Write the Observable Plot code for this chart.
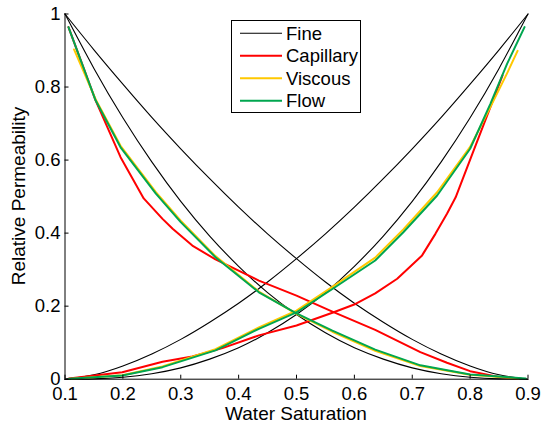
<!DOCTYPE html>
<html><head><meta charset="utf-8">
<script src="https://cdn.jsdelivr.net/npm/d3@7"></script>
<script src="https://cdn.jsdelivr.net/npm/@observablehq/plot@0.6"></script>
<style>body{margin:0;background:#fff}#chart{width:541px;height:426px}</style>
</head><body><div id="chart"></div>
<script>
// ---- data ----
const seriesNames = ["Fine", "Capillary", "Viscous", "Flow"];
const seriesColors = ["#000000", "#ff0000", "#ffc800", "#00a64f"];
const xTicks = [0.1, 0.2, 0.3, 0.4, 0.5, 0.6, 0.7, 0.8, 0.9];
const yTicks = [0, 0.2, 0.4, 0.6, 0.8, 1];

// Fine (black) curves, sampled at these saturations
const fineX = [0.10, 0.15, 0.20, 0.25, 0.30, 0.35, 0.40, 0.45, 0.50, 0.55, 0.60, 0.65, 0.70, 0.75, 0.80, 0.85, 0.90];
const fineOuterDec = [1, 0.902, 0.808, 0.717, 0.631, 0.549, 0.471, 0.398, 0.330, 0.266, 0.208, 0.156, 0.109, 0.069, 0.036, 0.012, 0];
const fineInnerDec = [1, 0.851, 0.716, 0.595, 0.487, 0.392, 0.309, 0.237, 0.177, 0.127, 0.086, 0.055, 0.031, 0.015, 0.0055, 0.001, 0];
const fineOuterInc = [0, 0.012, 0.036, 0.069, 0.109, 0.156, 0.208, 0.266, 0.330, 0.398, 0.471, 0.549, 0.631, 0.717, 0.808, 0.902, 1];
const fineInnerInc = [0, 0.001, 0.0055, 0.015, 0.031, 0.055, 0.086, 0.127, 0.177, 0.237, 0.309, 0.392, 0.487, 0.595, 0.716, 0.851, 1];

// Capillary (red)
const capDecX = [0.106, 0.153, 0.196, 0.236, 0.2685, 0.286, 0.32, 0.36, 0.435, 0.50, 0.562, 0.636, 0.714, 0.76, 0.80, 0.847, 0.88];
const capDecY = [0.964, 0.763, 0.608, 0.495, 0.439, 0.412, 0.366, 0.328, 0.27, 0.229, 0.185, 0.135, 0.074, 0.045, 0.022, 0.007, 0.002];
const capIncX = [0.107, 0.199, 0.2685, 0.32, 0.372, 0.435, 0.50, 0.562, 0.602, 0.636, 0.674, 0.717, 0.74, 0.76, 0.775, 0.806, 0.835, 0.856];
const capIncY = [0.002, 0.019, 0.048, 0.062, 0.085, 0.12, 0.147, 0.182, 0.206, 0.235, 0.275, 0.339, 0.398, 0.453, 0.498, 0.626, 0.745, 0.832];

// Viscous (yellow)
const viscDecX = [0.1156, 0.153, 0.196, 0.257, 0.30, 0.36, 0.435, 0.50, 0.562, 0.636, 0.714, 0.80, 0.884];
const viscDecY = [0.903, 0.766, 0.639, 0.512, 0.434, 0.337, 0.240, 0.179, 0.130, 0.078, 0.036, 0.012, 0.002];
const viscIncX = [0.112, 0.199, 0.2685, 0.36, 0.435, 0.50, 0.562, 0.636, 0.685, 0.743, 0.80, 0.835, 0.864, 0.882];
const viscIncY = [0.001, 0.011, 0.035, 0.082, 0.142, 0.188, 0.253, 0.333, 0.411, 0.512, 0.636, 0.745, 0.838, 0.899];

// Flow (green)
const flowDecX = [0.106, 0.153, 0.196, 0.257, 0.30, 0.36, 0.435, 0.50, 0.562, 0.636, 0.714, 0.80, 0.896];
const flowDecY = [0.964, 0.763, 0.635, 0.508, 0.43, 0.334, 0.238, 0.180, 0.133, 0.081, 0.038, 0.013, 0.002];
const flowIncX = [0.107, 0.199, 0.2685, 0.36, 0.435, 0.50, 0.562, 0.636, 0.685, 0.743, 0.80, 0.835, 0.864, 0.894];
const flowIncY = [0.001, 0.010, 0.033, 0.079, 0.138, 0.183, 0.247, 0.325, 0.403, 0.503, 0.631, 0.754, 0.864, 0.964];

// ---- build table ----
const rows = [];
function add(series, branch, xs, ys) { xs.forEach((x, i) => rows.push({series, branch, x, y: ys[i]})); }
add("Fine", "od", fineX, fineOuterDec);
add("Fine", "id", fineX, fineInnerDec);
add("Fine", "oi", fineX, fineOuterInc);
add("Fine", "ii", fineX, fineInnerInc);
add("Capillary", "d", capDecX, capDecY);
add("Capillary", "i", capIncX, capIncY);
add("Viscous", "d", viscDecX, viscDecY);
add("Viscous", "i", viscIncX, viscIncY);
add("Flow", "d", flowDecX, flowDecY);
add("Flow", "i", flowIncX, flowIncY);

const font = "'Liberation Sans', Arial, Helvetica, sans-serif";
const lineMarks = seriesNames.map((s, k) =>
  Plot.line(rows.filter(d => d.series === s), {
    x: "x", y: "y", z: "branch",
    stroke: seriesColors[k],
    strokeWidth: s === "Fine" ? 1.1 : 2,
    curve: s === "Fine" ? "natural" : "linear"
  })
);

const plot = Plot.plot({
  width: 541, height: 426,
  marginLeft: 64.5, marginRight: 13.5, marginTop: 13.5, marginBottom: 47.3,
  style: {fontFamily: font, fontSize: "18.5px", background: "#fff", color: "#000", overflow: "visible"},
  x: {domain: [0.1, 0.9]},
  y: {domain: [0, 1]},
  marks: [
    ...lineMarks,
    Plot.ruleX([0.1], {stroke: "#000", strokeWidth: 1}),
    Plot.ruleY([0], {stroke: "#000", strokeWidth: 1}),
    Plot.axisX(xTicks, {tickSize: -4, tickPadding: 12, tickFormat: d => String(d), label: null, fontSize: 18.5}),
    Plot.axisY(yTicks, {tickSize: -4, tickPadding: 8.5, tickFormat: d => String(d), label: null, fontSize: 18.5})
  ]
});

const svg = d3.select(plot);
// axis titles
svg.append("text").attr("x", 296).attr("y", 420).attr("text-anchor", "middle")
  .attr("font-family", font).attr("font-size", 19).attr("fill", "#000").text("Water Saturation");
svg.append("text").attr("transform", "translate(25,196) rotate(-90)").attr("text-anchor", "middle")
  .attr("font-family", font).attr("font-size", 19).attr("fill", "#000").text("Relative Permeability");

// legend
const lg = svg.append("g");
lg.append("rect").attr("x", 231.5).attr("y", 20.5).attr("width", 129).attr("height", 92)
  .attr("fill", "#fff").attr("stroke", "#000").attr("stroke-width", 1);
const rowsY = [33.3, 55.7, 78.3, 100.7];
seriesNames.forEach((s, k) => {
  lg.append("line").attr("x1", 240).attr("x2", 282).attr("y1", rowsY[k]).attr("y2", rowsY[k])
    .attr("stroke", seriesColors[k]).attr("stroke-width", k === 0 ? 1.1 : 2);
  lg.append("text").attr("x", 286).attr("y", rowsY[k]).attr("dy", "0.35em").attr("text-anchor", "start")
    .attr("font-family", font).attr("font-size", 18.5).attr("fill", "#000").text(s);
});

document.getElementById("chart").appendChild(plot);
</script>
</body></html>
